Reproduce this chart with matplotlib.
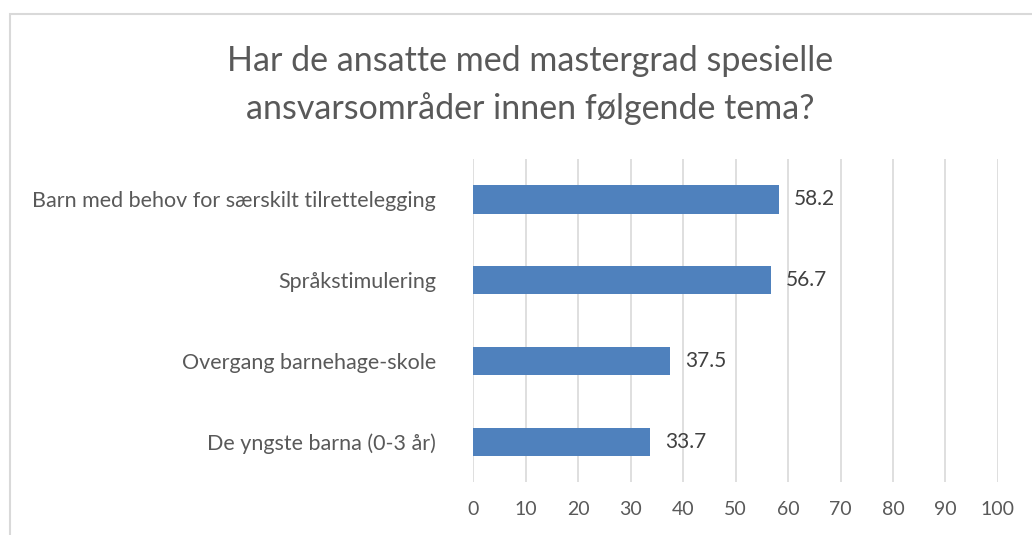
import matplotlib.pyplot as plt
from matplotlib.patches import Rectangle

# chart data
categories = [
    "Barn med behov for særskilt tilrettelegging",
    "Språkstimulering",
    "Overgang barnehage-skole",
    "De yngste barna (0-3 år)",
]
values = [58.2, 56.7, 37.5, 33.7]
x_ticks = list(range(0, 101, 10))
title = "Har de ansatte med mastergrad spesielle\nansvarsområder innen følgende tema?"

BAR_COLOR = "#4F81BD"
TEXT_COLOR = "#595959"
GRID_COLOR = "#D9D9D9"

plt.rcParams['font.family'] = ['Lato', 'DejaVu Sans']

fig = plt.figure(figsize=(10.32, 5.35), dpi=100)
ax = fig.add_axes([0.4588, 0.099, 0.967 - 0.4588, 0.7028 - 0.099])

# outer chart border (cropped at right/bottom in the reference)
fig.patches.append(Rectangle((9.5 / 1032, -0.05), 1.1, 1 - 14 / 535 + 0.05,
                             transform=fig.transFigure, fill=False,
                             edgecolor=GRID_COLOR, linewidth=1.5))

ypos = list(range(len(categories)))
ax.barh(ypos, values, height=0.35, color=BAR_COLOR, zorder=3)
for y, v in zip(ypos, values):
    ax.text(v + 2.9, y, f"{v:.1f}", va="center", ha="left",
            fontsize=15, color="#404040")

ax.set_xlim(0, 100)
ax.set_ylim(len(categories) - 0.5, -0.5)
ax.set_xticks(x_ticks)
ax.set_yticks(ypos)
ax.set_yticklabels(categories, fontsize=15.5)
ax.tick_params(axis="both", length=0, colors=TEXT_COLOR)
ax.tick_params(axis="x", labelsize=14, pad=14)
ax.tick_params(axis="y", pad=27)
ax.grid(axis="x", color=GRID_COLOR, linewidth=1.2, zorder=0)
for s in ax.spines.values():
    s.set_visible(False)

# two title lines placed separately to match the reference line gap
title_lines = title.split("\n")
for i, line in enumerate(title_lines):
    fig.text(530 / 1032, 1 - (61 + 48 * i) / 535, line, ha="center", va="center",
             fontsize=24.5, color=TEXT_COLOR)

fig.savefig("out.png", dpi=100)
